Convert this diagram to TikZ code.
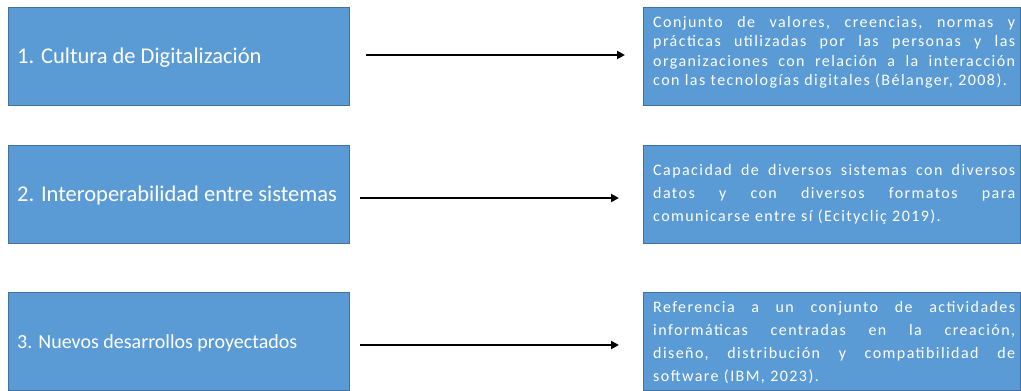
\documentclass[tikz,border=0pt]{standalone}
\usepackage{fontspec}
\setmainfont{Carlito}
\newfontfamily\descfont[LetterSpace=9]{Carlito}
\usetikzlibrary{arrows.meta}
\definecolor{boxblue}{HTML}{5B9BD5}
\definecolor{boxline}{HTML}{41719C}
\newcommand{\jf}{\hspace{3pt plus 1fill}}
\newcommand{\jline}[1]{\makebox[362pt][s]{#1}}
\begin{document}
\begin{tikzpicture}[x=1pt,y=-1pt,
  box/.style={draw=boxline, line width=1pt, fill=boxblue, anchor=north west, inner sep=0pt},
  lbox/.style={box, minimum width=341pt},
  rbox/.style={box, minimum width=377pt},
  ltext/.style={anchor=base west, inner sep=0pt, text=white},
  rtext/.style={anchor=north west, inner sep=0pt, text=white, text width=362pt, align=left},
  arr/.style={line width=2pt, -{Triangle[length=8pt,width=8pt]}}]
\useasboundingbox (0,0) rectangle (1021,391);
% left boxes
\node[lbox, minimum height=98pt] (b1) at (8,7) {};
\node[lbox, minimum height=97.5pt] (b2) at (8,145) {};
\node[lbox, minimum height=98pt] (b3) at (8,292) {};
% right boxes
\node[rbox, minimum height=98pt] (d1) at (643,7) {};
\node[rbox, minimum height=97.5pt] (d2) at (643,145) {};
\node[rbox, minimum height=98pt] (d3) at (643,292) {};
% left texts
\node[ltext, font=\fontsize{22.5}{27}\selectfont] (l1) at (17,63) {1. Cultura de Digitalización};
\node[ltext, font=\fontsize{22.5}{27}\selectfont] (l2) at (17,201) {2. Interoperabilidad entre sistemas};
\node[ltext, font=\fontsize{20}{24}\selectfont] (l3) at (17,348) {3. Nuevos desarrollos proyectados};
% right texts
\node[rtext, font=\descfont\fontsize{16}{19.5}\selectfont] (t1) at (653,14) {\rule{0pt}{13pt}\jline{Conjunto\jf de\jf valores,\jf creencias,\jf normas\jf y}\\
\jline{prácticas\jf utilizadas\jf por\jf las\jf personas\jf y\jf las}\\
\jline{organizaciones\jf con\jf relación\jf a\jf la\jf interacción}\\
con las tecnologías digitales (Bélanger, 2008).};
\node[rtext, font=\descfont\fontsize{16}{23}\selectfont] (t2) at (653,162.5) {\rule{0pt}{13pt}\jline{Capacidad\jf de\jf diversos\jf sistemas\jf con\jf diversos}\\
\jline{datos\jf y\jf con\jf diversos\jf formatos\jf para}\\
comunicarse entre sí (Ecitycliç 2019).};
\node[rtext, font=\descfont\fontsize{16}{23}\selectfont] (t3) at (653,299.5) {\rule{0pt}{13pt}\jline{Referencia\jf a\jf un\jf conjunto\jf de\jf actividades}\\
\jline{informáticas\jf centradas\jf en\jf la\jf creación,}\\
\jline{diseño,\jf distribución\jf y\jf compatibilidad\jf de}\\
software (IBM, 2023).};
% arrows
\coordinate (a1s) at (366,55);
\coordinate (a1e) at (625,55);
\coordinate (a2s) at (360,198);
\coordinate (a2e) at (619,198);
\coordinate (a3s) at (360,345);
\coordinate (a3e) at (619,345);
\draw[arr] (a1s) -- (a1e);
\draw[arr] (a2s) -- (a2e);
\draw[arr] (a3s) -- (a3e);
\end{tikzpicture}
\end{document}
